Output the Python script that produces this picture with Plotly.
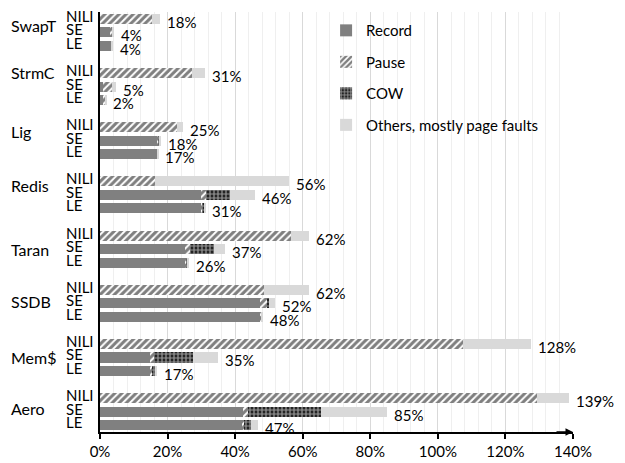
import plotly.graph_objects as go

groups = ["SwapT", "StrmC", "Lig", "Redis", "Taran", "SSDB", "Mem$", "Aero"]
variants = ["NILI", "SE", "LE"]

# values in %, per group: [NILI, SE, LE]
record = [[0, 3.2, 3.3], [0, 1.0, 0.9], [0, 16.8, 16.9], [0, 29.8, 29.9],
          [0, 25.1, 25.2], [0, 47.3, 47.5], [0, 14.8, 14.8], [0, 42.2, 42.2]]
pause = [[15.5, 0.5, 0], [27.1, 2.6, 0.6], [22.9, 0.6, 0.1], [16.4, 1.5, 0.5],
         [56.4, 1.5, 0.4], [48.5, 2.3, 0.3], [107.4, 1.3, 0.5], [129.2, 1.7, 0.4]]
cow = [[0, 0, 0], [0, 0, 0], [0, 0.3, 0], [0, 7.3, 0.5],
       [0, 7.1, 0.4], [0, 0.3, 0], [0, 11.5, 1.2], [0, 21.4, 2.0]]
others = [[2.4, 0.4, 0.4], [4.0, 1.0, 0.3], [1.7, 0.4, 0.2], [39.4, 7.4, 0.3],
          [5.4, 3.3, 0.3], [13.3, 1.9, 0.3], [20.2, 7.4, 0.5], [9.6, 19.5, 2.1]]

x_ticks = [0, 20, 40, 60, 80, 100, 120, 140]
x_ticklabels = ["0%", "20%", "40%", "60%", "80%", "100%", "120%", "140%"]

FONT = "Lato"
slots_per_group = 4
ypos = [g * slots_per_group + k for g in range(len(groups)) for k in range(len(variants))]

def flat(a):
    return [v for row in a for v in row]

fig = go.Figure()
series = [
    ("Record", record, dict(color="#808080")),
    ("Pause", pause, dict(color="white", pattern=dict(shape="/", fgcolor="black", bgcolor="white", size=5, solidity=0.6))),
    ("COW", cow, dict(color="black", pattern=dict(shape=".", fgcolor="white", bgcolor="black", size=4, solidity=0.7))),
    ("Others, mostly page faults", others, dict(color="#d9d9d9")),
]
for i, (name, vals, mk) in enumerate(series):
    mk = dict(mk)
    mk["line"] = dict(width=0)
    fig.add_trace(go.Bar(
        x=flat(vals), y=ypos, orientation="h", name=name, marker=mk,
        width=0.74, legendgroup=f"g{i}",
    ))

totals = [r + p + c + o for r, p, c, o in zip(flat(record), flat(pause), flat(cow), flat(others))]
annotations = []
for y, t in zip(ypos, totals):
    annotations.append(dict(x=t, y=y, xref="x", yref="y", text=f"{round(t):.0f}%",
                            showarrow=False, xanchor="left", yanchor="middle",
                            xshift=5, yshift=-3, font=dict(size=15, color="black", family=FONT)))
# variant labels (left aligned)
for y, v in zip(ypos, [v for _ in groups for v in variants]):
    annotations.append(dict(x=0, y=y, xref="paper", yref="y", text=v, showarrow=False,
                            xanchor="left", yanchor="middle", xshift=-36, yshift=3,
                            font=dict(size=15, color="black", family=FONT)))
# group labels
group_label_offsets = [0.5, 0.0, 0.3, 0.3, 1.0, 0.9, 1.0, 0.8]
for g, name in enumerate(groups):
    annotations.append(dict(x=0, y=g * slots_per_group + group_label_offsets[g], xref="paper", yref="y",
                            text=name, showarrow=False, xanchor="left", yanchor="middle",
                            xshift=-91, font=dict(size=16, color="black", family=FONT)))
# arrow at end of x axis
annotations.append(dict(x=140, y=0, xref="x", yref="paper", ax=-18, ay=0, text="",
                        showarrow=True, arrowhead=2, arrowsize=1, arrowwidth=1.5, arrowcolor="black"))

# page body adds an 8px offset, so the figure is sized to fit the 625x463 window
fig.update_layout(
    barmode="stack",
    width=617, height=455,
    margin=dict(l=92, r=52, t=4, b=31),
    plot_bgcolor="white", paper_bgcolor="white",
    font=dict(family=FONT, size=15, color="black"),
    showlegend=True,
    legend=dict(x=0.478, y=0.995, xanchor="left", yanchor="top", bgcolor="rgba(0,0,0,0)",
                tracegroupgap=9, font=dict(size=15, family=FONT), itemwidth=30),
    annotations=annotations,
    xaxis=dict(range=[0, 140], tickvals=x_ticks, ticktext=x_ticklabels, automargin=False,
               showgrid=True, gridcolor="#d9d9d9", gridwidth=1,
               minor=dict(dtick=4, showgrid=True, gridcolor="#efefef", gridwidth=1),
               showline=True, linecolor="black", linewidth=1.5,
               ticks="outside", ticklen=5, tickcolor="black", tickwidth=1.5,
               zeroline=False, tickfont=dict(size=15, family=FONT)),
    yaxis=dict(range=[30.5, -0.5], showticklabels=False, showgrid=False, zeroline=False, automargin=False,
               showline=True, linecolor="black", linewidth=1.5, ticks=""),
)

fig.write_html("out.html")
